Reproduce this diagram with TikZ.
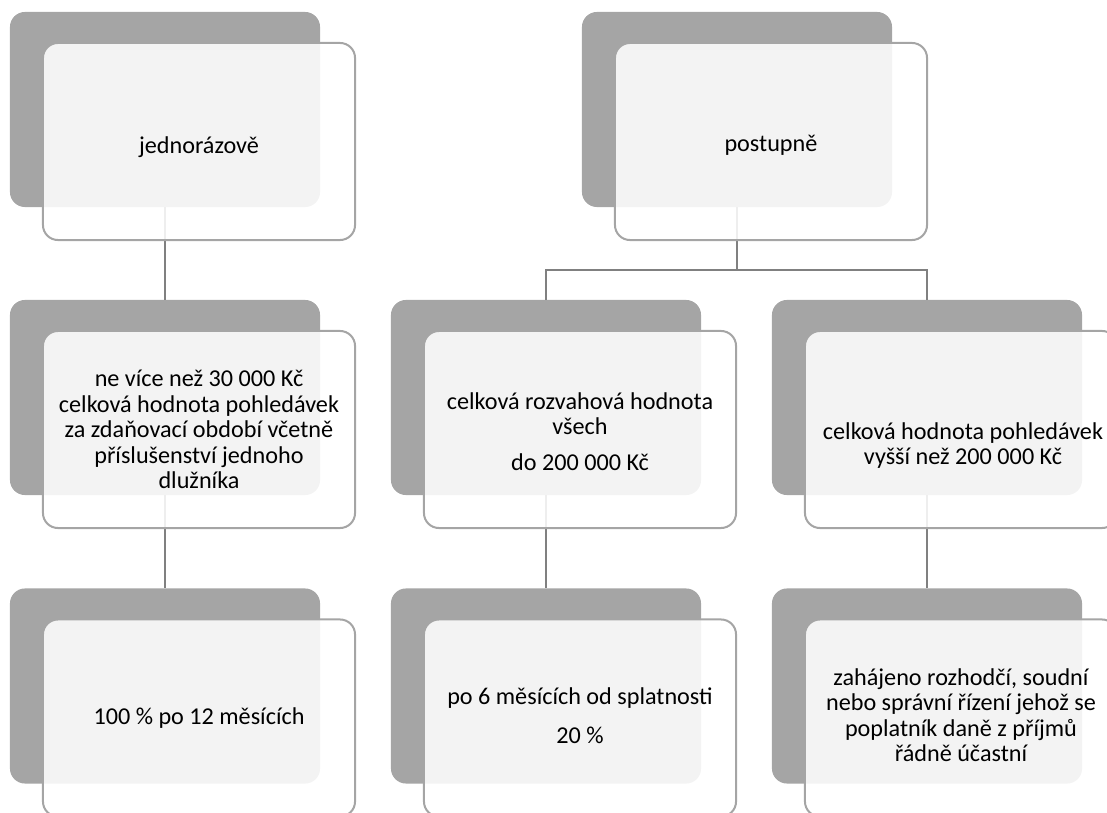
\documentclass[tikz,border=0pt]{standalone}
\usepackage{fontspec}
\setmainfont{Carlito}
\definecolor{backgray}{HTML}{A5A5A5}
\definecolor{linegray}{HTML}{808080}

\begin{document}
\begin{tikzpicture}[x=0.025cm,y=-0.025cm,
  back/.style={rectangle,rounded corners=0.375cm,fill=backgray,minimum width=7.75cm,minimum height=4.875cm,inner sep=0pt},
  front/.style={rectangle,rounded corners=0.375cm,draw=backgray,line width=0.05cm,fill=white,fill opacity=0.87,minimum width=7.8cm,minimum height=4.925cm,inner sep=0pt},
  conn/.style={draw=linegray,line width=0.05cm},
  txt/.style={align=center,font=\fontsize{17.2pt}{18.1pt}\selectfont,text=black}]
% \draw[help lines] (0,0) grid (1107,813);
\useasboundingbox (0,0) rectangle (1107,813);
\clip (0,0) rectangle (1107,813);
%
\node (d1) [back] at (165,109.5) {};
\node (d2) [back] at (737,109.5) {};
\node (d3) [back] at (165,397.5) {};
\node (d4) [back] at (546,397.5) {};
\node (d5) [back] at (927,397.5) {};
\node (d6) [back] at (165,686) {};
\node (d7) [back] at (546,686) {};
\node (d8) [back] at (927,686) {};
%
\coordinate (split) at (737,270);
\draw[conn] (d1.south) -- (d3.north);
\draw[conn] (d2.south) -- (split);
\draw[conn] (split) -| (d4.north);
\draw[conn] (split) -| (d5.north);
\draw[conn] (d3.south) -- (d6.north);
\draw[conn] (d4.south) -- (d7.north);
\draw[conn] (d5.south) -- (d8.north);
%
\node (f1) [front] at ([shift={(34,32)}]d1) {};
\node (f2) [front] at ([shift={(34,32)}]d2) {};
\node (f3) [front] at ([shift={(34,32)}]d3) {};
\node (f4) [front] at ([shift={(34,32)}]d4) {};
\node (f5) [front] at ([shift={(34,32)}]d5) {};
\node (f6) [front] at ([shift={(34,32)}]d6) {};
\node (f7) [front] at ([shift={(34,32)}]d7) {};
\node (f8) [front] at ([shift={(34,32)}]d8) {};
%
\node (t1) [txt] at ([shift={(0,6)}]f1) {jednorázově};
\node (t2) [txt] at ([shift={(0,4)}]f2) {postupně};
\node (t3) [txt] at (f3) {ne více než 30 000 Kč\\celková hodnota pohledávek\\za zdaňovací období včetně\\příslušenství jednoho\\dlužníka};
\node (t4) [txt] at ([shift={(0,2)}]f4) {celková rozvahová hodnota\\všech\\[0.25cm]do 200 000 Kč};
\node (t5) [txt] at ([shift={(2,16)}]f5) {celková hodnota pohledávek\\vyšší než 200 000 Kč};
\node (t6) [txt] at (f6) {100 \% po 12 měsících};
\node (t7) [txt] at ([shift={(0,-2)}]f7) {po 6 měsících od splatnosti\\[0.34cm]20 \%};
\node (t8) [txt] at ([shift={(0,-3)}]f8) {zahájeno rozhodčí, soudní\\nebo správní řízení jehož se\\poplatník daně z příjmů\\řádně účastní};
\end{tikzpicture}
\end{document}
